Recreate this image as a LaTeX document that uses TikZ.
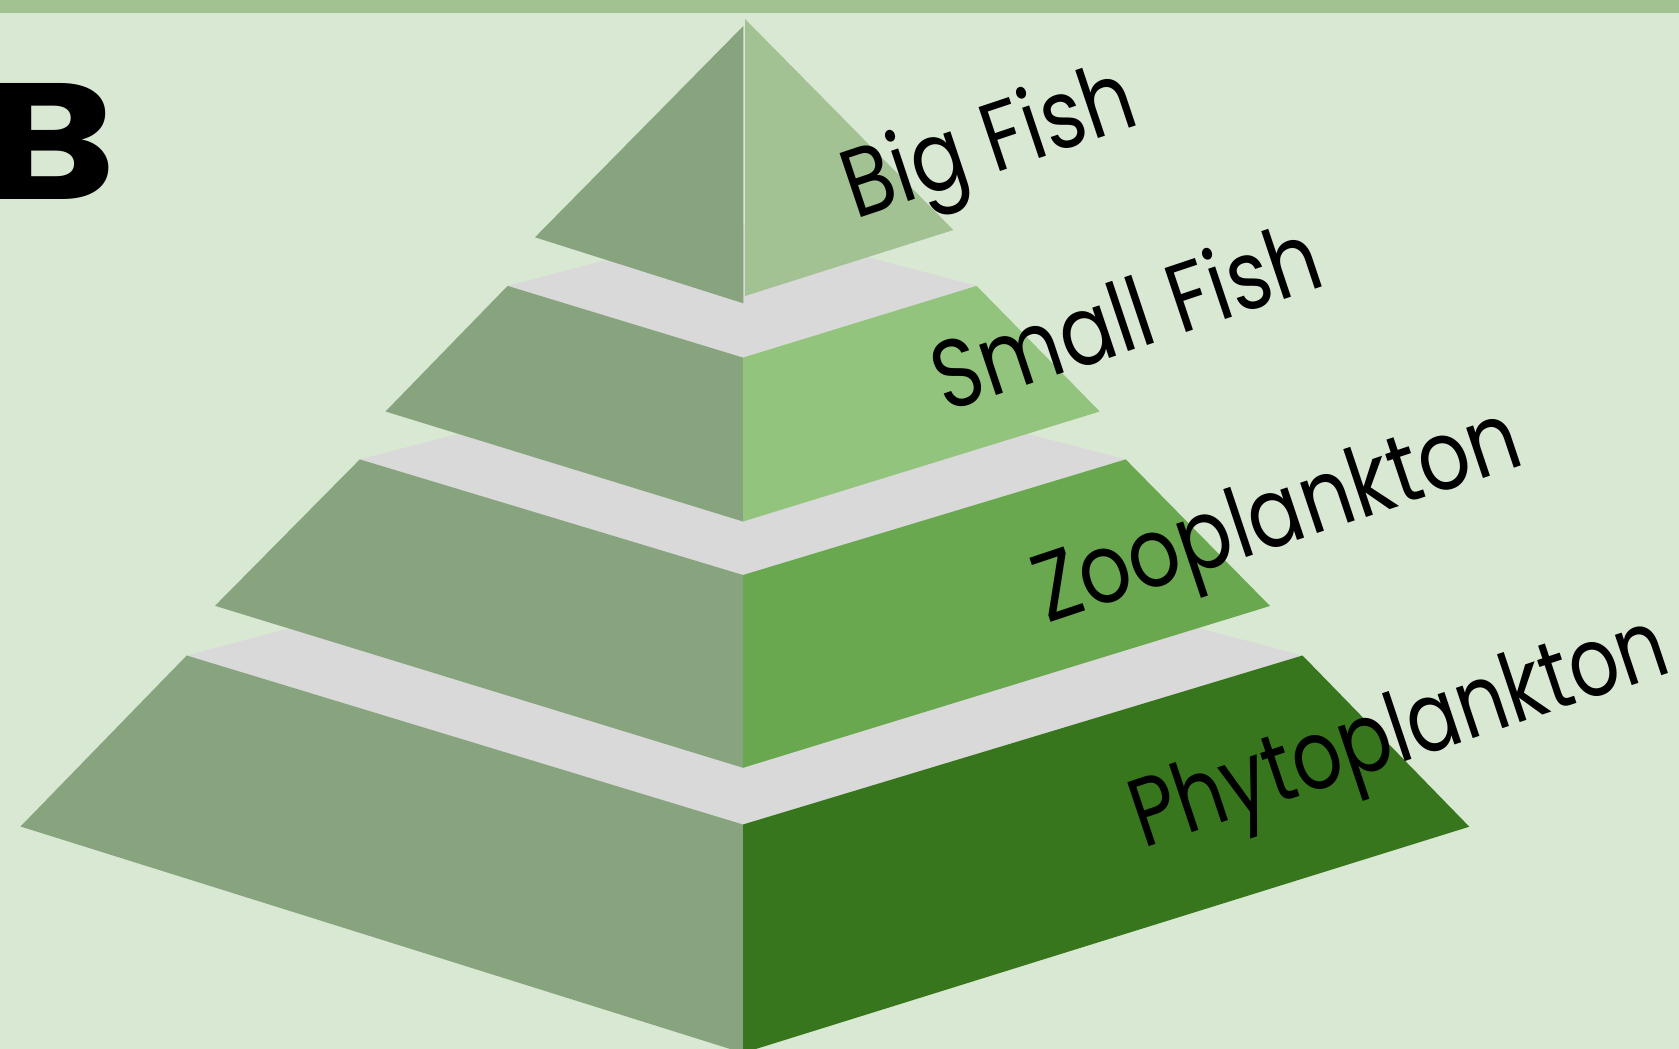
\documentclass[tikz,border=0pt]{standalone}
\usepackage{fontspec}
\usepackage{graphicx}
\setmainfont{Poppins}
\newfontfamily\letterfont{Poppins Bold}

\definecolor{bgcol}{HTML}{D9E8D3}
\definecolor{barcol}{HTML}{A2C291}
\definecolor{topcol}{HTML}{D9D9D9}
\definecolor{sidecol}{HTML}{88A47E}
\definecolor{fishbig}{HTML}{A2C293}
\definecolor{fishsmall}{HTML}{93C47D}
\definecolor{zoocol}{HTML}{6AA84F}
\definecolor{phytocol}{HTML}{38761D}

\begin{document}
\begin{tikzpicture}[x=0.01cm, y=-0.01cm,
		tierlabel/.style={anchor=base west, inner sep=0pt, rotate=18.5, font=\fontsize{27.5}{31}\selectfont},
		leftface/.style={fill=sidecol},
		topface/.style={fill=topcol}]
		\useasboundingbox (0,0) rectangle (1679,1049);
		\clip (0,0) rectangle (1679,1049);
		\fill[bgcol] (0,0) rectangle (1679,1049);
		\fill[barcol] (0,0) rectangle (1679,13);
		% bottom tier
		\fill[topface] (186.7,655.5) -- (743,508) -- (1302.5,655.5) -- (743,824.5) -- cycle;
		\fill[leftface] (186.7,655.5) -- (743,824.5) -- (743,1053) -- (20.5,826.5) -- cycle;
		\fill[phytocol] (743,824.5) -- (1302.5,655.5) -- (1469.3,826.7) -- (743,1053) -- cycle;
		% third tier
		\fill[topface] (359.8,459.4) -- (743,360) -- (1125.7,459.4) -- (743,575) -- cycle;
		\fill[leftface] (359.8,459.4) -- (743,575) -- (743,767.8) -- (215,605.8) -- cycle;
		\fill[zoocol] (743,575) -- (1125.7,459.4) -- (1270,606) -- (743,767.8) -- cycle;
		% second tier
		\fill[topface] (507.6,285.9) -- (743,224) -- (976.6,285.9) -- (743,357.6) -- cycle;
		\fill[leftface] (507.6,285.9) -- (743,357.6) -- (743,521.5) -- (385.5,411.5) -- cycle;
		\fill[fishsmall] (743,357.6) -- (976.6,285.9) -- (1099.7,411.5) -- (743,521.5) -- cycle;
		% top
		\fill[leftface] (743.3,26) -- (743.3,303.3) -- (535,237.3) -- cycle;
		\fill[fishbig] (745,19) -- (953.3,230) -- (745,296) -- cycle;
		% labels
		\node[tierlabel] (bigfish) at (855,220) {\scalebox{0.84}[1]{Big Fish}};
		\node[tierlabel] (smallfish) at (945,413) {\scalebox{0.84}[1]{Small Fish}};
		\node[tierlabel] (zoo) at (1047,624) {\scalebox{0.84}[1]{Zooplankton}};
		\node[tierlabel] (phyto) at (1143,849) {\scalebox{0.805}[1]{Phytoplankton}};
		\node[anchor=base west, inner sep=0pt, font=\letterfont\fontsize{47}{50}\selectfont] (letter) at (-15,200) {\scalebox{1.2}[1]{B}};
	\end{tikzpicture}
\end{document}
